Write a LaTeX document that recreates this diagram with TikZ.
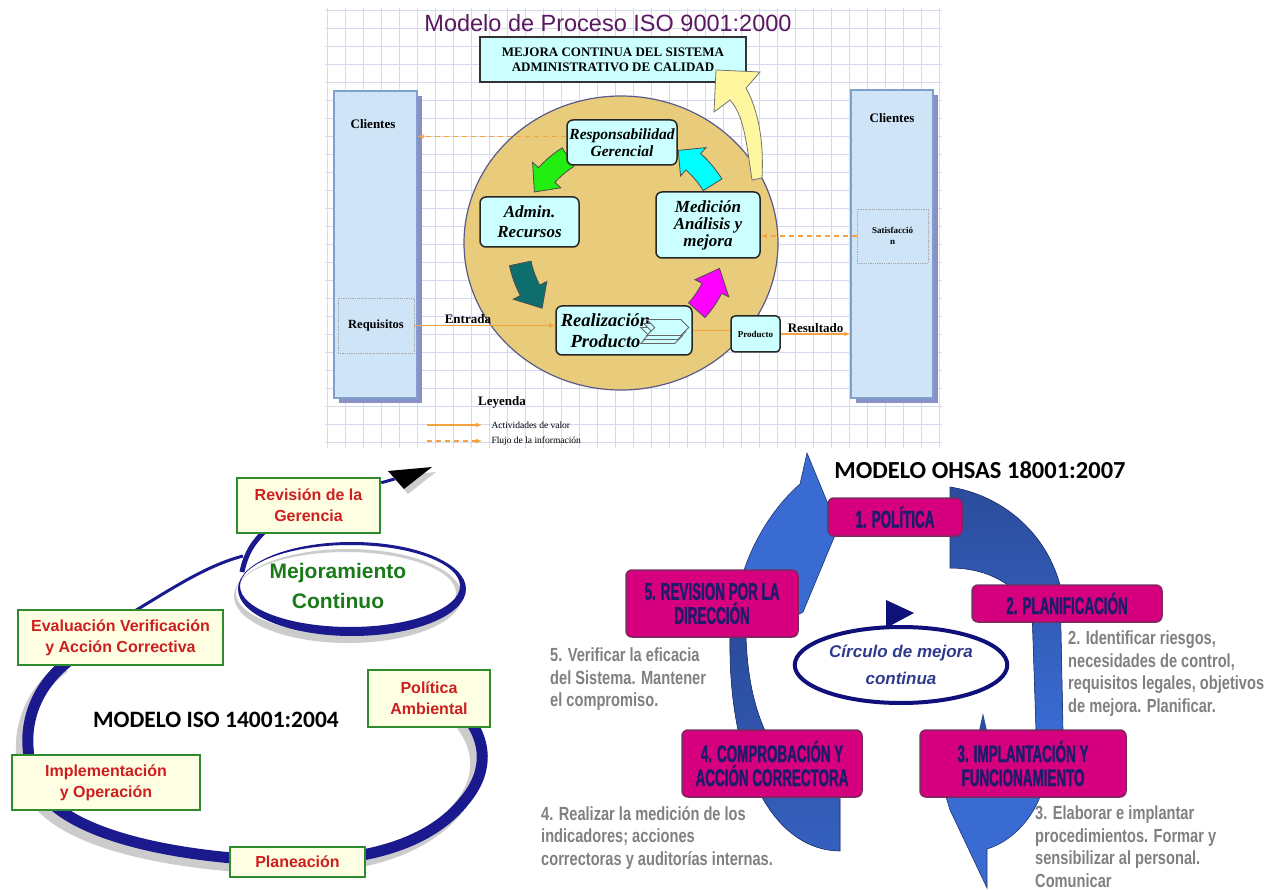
\documentclass[tikz,border=0pt]{standalone}
\usepackage{fontspec}
\setmainfont{Liberation Serif}
\newfontfamily\arialfont{Liberation Sans}
\newfontfamily\calfont{Carlito}
\newfontfamily\impactfont[FakeStretch=0.56,FakeBold=1.2]{Liberation Sans Bold}
\newfontfamily\narrowfont[FakeStretch=0.77]{Liberation Sans Bold}
\usetikzlibrary{shapes.geometric, arrows, positioning, calc, shadows}
\definecolor{isoPurple}{HTML}{5A1860}
\definecolor{gridBlue}{HTML}{D3DAEE}
\definecolor{panelBlue}{HTML}{CFE5F7}
\definecolor{panelEdge}{HTML}{7F9FCF}
\definecolor{panelShadow}{HTML}{8A8FC4}
\definecolor{boxCyan}{HTML}{CCFFFF}
\definecolor{circleTan}{HTML}{E8CC7C}
\definecolor{circEdge}{HTML}{5A5A8A}
\definecolor{flowOrange}{HTML}{F5A340}
\definecolor{arrGreen}{HTML}{22EE11}
\definecolor{arrTeal}{HTML}{0E6E6E}
\definecolor{arrMagenta}{HTML}{FF00FF}
\definecolor{arrCyan}{HTML}{00FFFF}
\definecolor{arrYellow}{HTML}{FFF7A0}
\definecolor{ribbonNavy}{HTML}{1A1A8E}
\definecolor{boxGreen}{HTML}{2E8B2E}
\definecolor{boxCream}{HTML}{FEFEE2}
\definecolor{textRed}{HTML}{CC1F1F}
\definecolor{mejGreen}{HTML}{1A7A1A}
\definecolor{stepMagenta}{HTML}{D6007E}
\definecolor{stepEdge}{HTML}{7A2A60}
\definecolor{stepText}{HTML}{1C1C6B}
\definecolor{bandLight}{HTML}{3A6BD2}
\definecolor{bandMid}{HTML}{3560BE}
\definecolor{bandDark}{HTML}{2B4C9B}
\definecolor{bandEdge}{HTML}{1F3570}
\definecolor{descGray}{HTML}{808080}
\definecolor{circNavy}{HTML}{10107A}
\definecolor{circText}{HTML}{2E3A8C}
\tikzset{
  gridline/.style={draw=gridBlue,line width=0.7},
  panel/.style={draw=panelEdge,fill=panelBlue,line width=1.2,
    drop shadow={shadow xshift=5pt,shadow yshift=-5pt,fill=panelShadow,opacity=1}},
  lbl/.style={font=\fontsize{13}{15}\selectfont\bfseries},
  dotbox/.style={draw=gray!70,densely dotted,line width=0.8,align=center,
    font=\fontsize{9}{11}\selectfont\bfseries},
  actbox/.style={rounded corners=6,draw=black!85,line width=1.5,fill=boxCyan,
    align=center,inner sep=2},
  valor/.style={draw=flowOrange,line width=1.1,-latex},
  info/.style={valor,dash pattern=on 5pt off 4pt},
  stepbox/.style={draw=boxGreen,line width=2.5,fill=boxCream,text=textRed,align=center,
    font=\arialfont\bfseries\fontsize{16}{21}\selectfont},
  ohsasbox/.style={rounded corners=6,draw=stepEdge,line width=1.5,fill=stepMagenta,
    text=stepText,align=center,font=\impactfont\fontsize{24}{24}\selectfont},
  descr/.style={font=\narrowfont\fontsize{19}{22.5}\selectfont,text=descGray,
    align=left,anchor=north west,inner sep=0},
  band/.style={draw=bandEdge,line width=0.6},
}
% curved block arrow on the ring of the process model
\newcommand{\ringarrow}[5]{%
  \filldraw[fill=#1,draw=black!70,line width=0.8,shift={(621,242)}]
    ({#2}:{#4+11}) arc[start angle={#2},end angle={#3},radius={#4+11}]
    -- ({#3}:{#4+19}) -- ({#5}:{#4}) -- ({#3}:{#4-19}) -- ({#3}:{#4-11})
    arc[start angle={#3},end angle={#2},radius={#4-11}] -- cycle;}
\begin{document}
\begin{tikzpicture}[x=1pt,y=-1pt]
\useasboundingbox (0,0) rectangle (1282,890);
%%% ISO 9001 process model
\foreach \gx in {327,345,...,941} \draw[gridline] (\gx,8) -- (\gx,448);
\foreach \gy in {10,28,...,447} \draw[gridline] (325,\gy) -- (942,\gy);
\node[font=\arialfont\fontsize{23.5}{25}\selectfont,text=isoPurple] (title) at (608,23)
  {Modelo de Proceso ISO 9001:2000};
\node[panel,minimum width=83,minimum height=307] (cliL) at (375.5,244.5) {};
\node[panel,minimum width=82,minimum height=308] (cliR) at (892,244) {};
\node[lbl] (cliLtxt) at (373,124) {Clientes};
\node[lbl] (cliRtxt) at (892,118) {Clientes};
\node[dotbox,minimum width=76,minimum height=55,font=\fontsize{12.5}{14}\selectfont\bfseries]
  (req) at (376,325.5) {Requisitos};
\node[dotbox,minimum width=71,minimum height=54] (sat) at (892.5,236) {Satisfacció\\n};
\node[ellipse,draw=circEdge,fill=circleTan,line width=1.2,minimum width=314,minimum height=294]
  (cyc) at (621,243) {};
\ringarrow{arrGreen}{-122}{-138}{100}{-150}
\ringarrow{arrTeal}{168}{152}{103}{140}
\ringarrow{arrMagenta}{42}{27}{102}{15}
\ringarrow{arrCyan}{-32}{-48}{108}{-58}
\node[actbox,minimum width=110,minimum height=45,font=\fontsize{15.5}{17}\selectfont\bfseries\itshape]
  (resp) at (622,142.5) {Responsabilidad\\Gerencial};
\node[actbox,minimum width=99,minimum height=50,font=\fontsize{17}{20}\selectfont\bfseries\itshape]
  (admin) at (529.5,222) {Admin.\\Recursos};
\node[actbox,minimum width=104,minimum height=66,font=\fontsize{17}{17}\selectfont\bfseries\itshape]
  (medi) at (708,225) {Medición\\Análisis y\\mejora};
\node[actbox,minimum width=136,minimum height=49,font=\fontsize{18.5}{21}\selectfont\bfseries\itshape]
  (real) at (624,330.5) {Realización\phantom{xxxx}\\Producto\phantom{xxxx}};
\foreach \k in {2,1,0}
  \draw[fill=boxCyan,draw=gray!80!black,line width=0.8]
    ($(real.east)+(-46-3*\k,-11+4*\k)$) -- ++(34,0) -- ++(8,8) -- ++(-8,8) -- ++(-34,0) -- ++(8,-8) -- cycle;
\node[actbox,rounded corners=4,minimum width=49,minimum height=36,font=\fontsize{9}{10}\selectfont\bfseries]
  (prod) at (755.5,334) {Producto};
\node[draw=black!80,line width=1.3,fill=boxCyan,minimum width=266,minimum height=45,align=center,
  font=\fontsize{13}{15}\selectfont\bfseries] (mejora) at (613,59.5)
  {MEJORA CONTINUA DEL SISTEMA\\ADMINISTRATIVO DE CALIDAD};
\filldraw[fill=arrYellow,draw=black!55,line width=0.8]
  (752,180) .. controls (746,140) and (744,116) .. (730,100) -- (714,112) -- (716,70) -- (760,72)
  -- (746,88) .. controls (758,110) and (764,140) .. (762,178) -- cycle;
\coordinate (respL) at ([yshift=6pt]resp.west);
\draw[info] (respL) -- (respL -| cliL.east);
\draw[info] (sat.west) -- (sat.west -| medi.east);
\draw[valor] (req.east) -- (req.east -| real.west) node[pos=0.38,above,lbl,inner sep=1] (entrada) {Entrada};
\draw[valor,-] (real.east) -- (real.east -| prod.west);
\draw[valor] (prod.east) -- (prod.east -| cliR.west) node[midway,above,lbl,inner sep=1] (resultado) {Resultado};
\node[font=\fontsize{13}{15}\selectfont\bfseries] (leyenda) at (502,402) {Leyenda};
\node[anchor=west,font=\fontsize{9.5}{11}\selectfont] (legValor) at (488,425) {Actividades de valor};
\node[anchor=west,font=\fontsize{9.5}{11}\selectfont] (legInfo) at (488,441) {Flujo de la información};
\coordinate (legValorS) at (427,425);
\coordinate (legInfoS) at (427,441);
\draw[valor] (legValorS) -- ([xshift=-6pt]legValor.west);
\draw[info] (legInfoS) -- ([xshift=-6pt]legInfo.west);
%%% ISO 14001 spiral
\draw[gray!40,line width=12,shift={(-6,7)}] (70,660) .. controls (30,690) and (15,740) .. (40,790)
  .. controls (70,835) and (170,855) .. (260,860) .. controls (360,866) and (430,845) .. (465,800)
  .. controls (490,770) and (485,740) .. (468,718);
\draw[ribbonNavy,line width=11] (70,660) .. controls (30,690) and (15,740) .. (40,790)
  .. controls (70,835) and (170,855) .. (260,860) .. controls (360,866) and (430,845) .. (465,800)
  .. controls (490,770) and (485,740) .. (468,718);
\fill[gray!40,even odd rule,shift={(-4,7)}] (352,589) ellipse [x radius=114,y radius=47]
  (350,586) ellipse [x radius=110,y radius=41];
\fill[ribbonNavy,even odd rule] (352,589) ellipse [x radius=114,y radius=47]
  (350,586) ellipse [x radius=110,y radius=41];
\draw[ribbonNavy,line width=3] (133,612) .. controls (170,590) and (205,566) .. (243,556);
\draw[ribbonNavy,line width=5] (242,572) .. controls (246,552) and (255,540) .. (266,530);
\node[stepbox,minimum width=143,minimum height=55] (revision) at (308.5,505.5) {Revisión de la\\Gerencia};
\node[stepbox,minimum width=205,minimum height=55] (evaluacion) at (120.5,637.5)
  {Evaluación Verificación\\y Acción Correctiva};
\node[stepbox,minimum width=122,minimum height=57] (politica) at (429,698.5) {Política\\Ambiental};
\node[stepbox,minimum width=188,minimum height=55] (implementacion) at (106,782.5)
  {Implementación\\y Operación};
\node[stepbox,minimum width=135,minimum height=30] (planeacion) at (297.5,862) {Planeación};
\coordinate (spiralTip) at (398,478);
\draw[ribbonNavy,line width=3] ([yshift=-6pt]revision.north east) -- (spiralTip);
\fill[gray!40] (392,476) -- (436,472) -- (408,494) -- cycle;
\fill[black] (388,471) -- (432,467) -- (404,489) -- cycle;
\node[font=\arialfont\bfseries\fontsize{21}{30}\selectfont,text=mejGreen,align=center]
  (mejoramiento) at (338,586) {Mejoramiento\\Continuo};
\node[font=\calfont\bfseries\fontsize{23.5}{26}\selectfont] (iso14) at (216,720) {MODELO ISO 14001:2004};
%%% OHSAS 18001 cycle
\filldraw[band,fill=bandLight] (734,636) -- (734,620) .. controls (738,560) and (770,510) .. (800,484)
  -- (807,453) -- (838,528) -- (803,612) .. controls (785,622) and (765,630) .. (758,636) -- cycle;
\filldraw[band,top color=bandDark,bottom color=bandLight] (950,487) .. controls (1000,495) and (1045,530) .. (1060,585)
  -- (1063,730) -- (1036,730) -- (1032,610) .. controls (1010,578) and (980,568) .. (950,568) -- cycle;
\fill[bandDark] (983,713) -- (987,731) -- (979,731) -- cycle;
\filldraw[band,fill=bandLight] (946,797) -- (950,810) -- (987,888) -- (987,849)
  .. controls (1010,842) and (1030,822) .. (1040,797) -- cycle;
\filldraw[band,top color=bandDark,bottom color=bandMid] (730,637) .. controls (728,760) and (770,850) .. (840,851)
  -- (840,790) -- (795,775) .. controls (765,745) and (748,700) .. (746,637) -- cycle;
\node[ohsasbox,minimum width=134,minimum height=38] (pol) at (895,517) {1. POLÍTICA};
\node[ohsasbox,minimum width=190,minimum height=37] (plan) at (1067,603.5) {2. PLANIFICACIÓN};
\node[ohsasbox,minimum width=206,minimum height=67] (impl) at (1023,763.5) {3. IMPLANTACIÓN Y\\FUNCIONAMIENTO};
\node[ohsasbox,minimum width=180,minimum height=67] (comp) at (772,763.5) {4. COMPROBACIÓN Y\\ACCIÓN CORRECTORA};
\node[ohsasbox,minimum width=172,minimum height=67] (revi) at (712,603.5) {5. REVISION POR LA\\DIRECCIÓN};
\node[ellipse,draw=circNavy,line width=4,minimum width=182,minimum height=76,align=center,text=circText,
  font=\arialfont\bfseries\itshape\fontsize{17}{27}\selectfont] (mejCirc) at (901,665) {Círculo de mejora\\continua};
\fill[circNavy] (886,600) -- (914,613) -- (886,628) -- cycle;
\node[font=\calfont\bfseries\fontsize{24.5}{27}\selectfont] (ohsas) at (980,470) {MODELO OHSAS 18001:2007};
\node[descr] (d5) at (550,648) {5. Verificar la eficacia\\del Sistema. Mantener\\el compromiso.};
\node[descr] (d2) at (1068,631) {2. Identificar riesgos,\\necesidades de control,\\requisitos legales, objetivos\\de mejora. Planificar.};
\node[descr] (d4) at (541,806) {4. Realizar la medición de los\\indicadores; acciones\\correctoras y auditorías internas.};
\node[descr] (d3) at (1035,806) {3. Elaborar e implantar\\procedimientos. Formar y\\sensibilizar al personal.\\Comunicar};
\end{tikzpicture}
\end{document}
